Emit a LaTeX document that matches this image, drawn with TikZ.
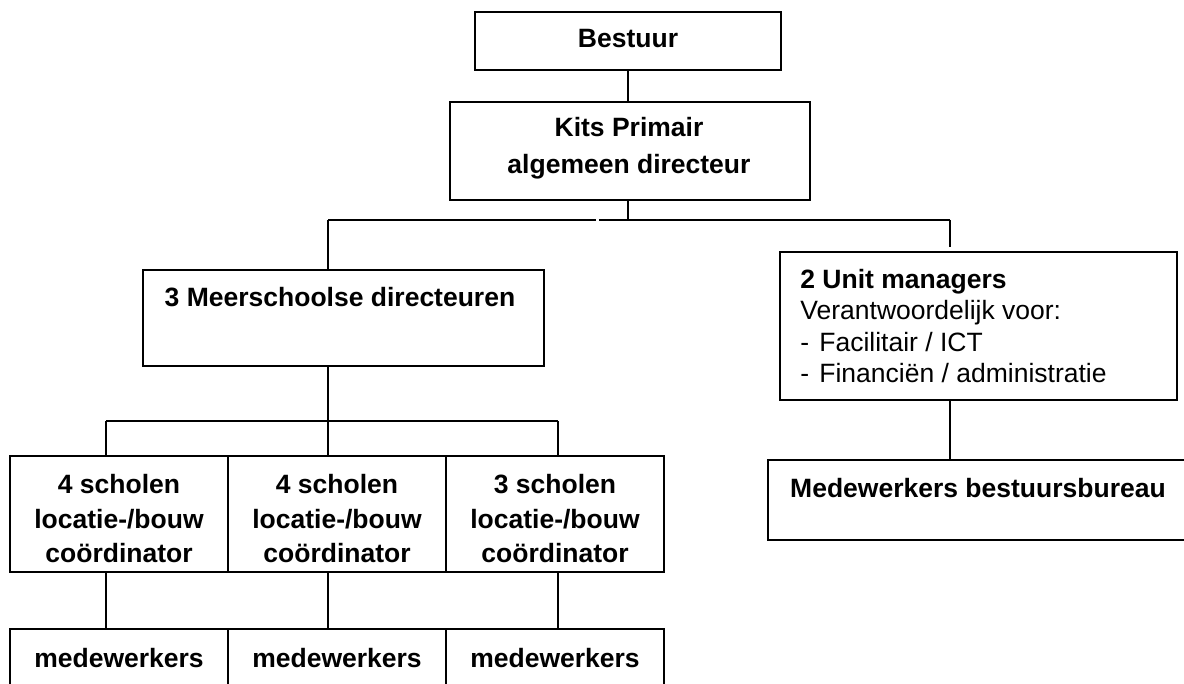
\documentclass[tikz,border=0pt]{standalone}
\usepackage{fontspec}
\setmainfont{Liberation Sans}
\begin{document}
\begin{tikzpicture}[x=0.5pt,y=-0.5pt,
  box/.style 2 args={draw, line width=0.9pt, inner sep=0pt, outer sep=0pt,
    minimum width=#1*0.5pt, minimum height=#2*0.5pt},
  txt/.style={inner sep=0pt, align=center, font=\fontsize{13.25}{17.25}\selectfont\bfseries},
  link/.style={line width=0.9pt}]
\clip (0,0) rectangle (1184,684);

% boxes
\node[box={306}{58}] (bestuur) at (628,41) {};
\node[txt] (bestuurT) at (628,39) {Bestuur};

\node[box={360}{98}] (kits) at (630,151) {};
\node[txt, font=\fontsize{13.25}{18.5}\selectfont\bfseries] (kitsT) at (629,148) {Kits Primair\\algemeen directeur};

\node[box={401}{96}] (meer) at (343.5,318) {};
\node[txt] (meerT) at (340,297) {3 Meerschoolse directeuren};

\node[box={397}{148}] (unit) at (978.5,326) {};
\node[txt, anchor=west, align=left, font=\fontsize{13.25}{15.7}\selectfont] (unitT) at (800,326)
  {\textbf{2 Unit managers}\\Verantwoordelijk voor:\\\makebox[9.5pt][l]{-}Facilitair / ICT\\\makebox[9.5pt][l]{-}Financiën / administratie};

\node[box={440}{80}] (mb) at (988,500) {};
\node[txt] (mbT) at (978,488) {Medewerkers bestuursbureau};

\node[box={218}{116}] (s1) at (119,514) {};
\node[box={218}{116}] (s2) at (337,514) {};
\node[box={218}{116}] (s3) at (555,514) {};
\node[txt] (s1T) at (119,519) {4 scholen\\locatie-/bouw\\coördinator};
\node[txt] (s2T) at (337,519) {4 scholen\\locatie-/bouw\\coördinator};
\node[txt] (s3T) at (555,519) {3 scholen\\locatie-/bouw\\coördinator};

\node[box={218}{100}] (m1) at (119,679) {};
\node[box={218}{100}] (m2) at (337,679) {};
\node[box={218}{100}] (m3) at (555,679) {};
\node[txt] (m1T) at (119,658) {medewerkers};
\node[txt] (m2T) at (337,658) {medewerkers};
\node[txt] (m3T) at (555,658) {medewerkers};

% junctions
\coordinate (j1) at (628,220);
\coordinate (jL) at (328,220);
\coordinate (jR) at (950,220);
\coordinate (g1) at (596,220);
\coordinate (g2) at (599,220);
\coordinate (uEnd) at (950,247);
\coordinate (j2) at (328,421);
\coordinate (a1) at (106,421);
\coordinate (a3) at (558,421);

% connectors
\draw[link] (bestuur.south) -- (bestuur.south |- kits.north);
\draw[link] (j1 |- kits.south) -- (j1);
\draw[link] (jL) -- (g1);
\draw[link] (g2) -- (jR);
\draw[link] (jL) -- (jL |- meer.north);
\draw[link] (jR) -- (uEnd);
\draw[link] (jL |- meer.south) -- (j2);
\draw[link] (a1) -- (a3);
\draw[link] (a1) -- (a1 |- s1.north);
\draw[link] (j2) -- (j2 |- s2.north);
\draw[link] (a3) -- (a3 |- s3.north);
\draw[link] (a1 |- s1.south) -- (a1 |- m1.north);
\draw[link] (j2 |- s2.south) -- (j2 |- m2.north);
\draw[link] (a3 |- s3.south) -- (a3 |- m3.north);
\draw[link] (jR |- unit.south) -- (jR |- mb.north);
\end{tikzpicture}
\end{document}
